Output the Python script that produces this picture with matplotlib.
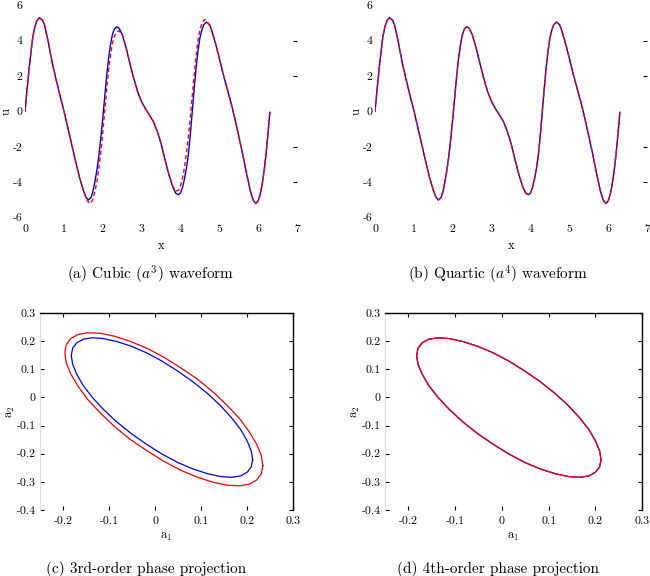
import numpy as np
import matplotlib
matplotlib.use("Agg")
import matplotlib.pyplot as plt

plt.rcParams['font.family'] = ['cmr10', 'DejaVu Serif']
plt.rcParams['mathtext.fontset'] = 'cm'
plt.rcParams['axes.unicode_minus'] = False

# forma de onda, solucion "exacta" (azul)
x_exacta = [0.00, 0.05, 0.10, 0.15, 0.20, 0.25, 0.30, 0.37, 0.45, 0.50, 0.60, 0.70, 0.80, 0.90,
            1.00, 1.10, 1.20, 1.30, 1.40, 1.50, 1.57, 1.63, 1.70, 1.75, 1.80, 1.85, 1.90, 1.95,
            2.00, 2.05, 2.10, 2.15, 2.20, 2.25, 2.30, 2.36, 2.42, 2.50, 2.60, 2.70, 2.80, 2.90,
            3.00, 3.10, 3.20, 3.30, 3.40, 3.50, 3.60, 3.70, 3.80, 3.88, 3.95, 4.00, 4.05, 4.10,
            4.15, 4.20, 4.25, 4.30, 4.35, 4.40, 4.45, 4.50, 4.55, 4.60, 4.67, 4.75, 4.80, 4.90,
            5.00, 5.10, 5.20, 5.30, 5.40, 5.50, 5.60, 5.70, 5.80, 5.87, 5.94, 6.00, 6.05, 6.10,
            6.15, 6.20, 6.25, 6.30]
u_exacta = [0.0, 1.2, 2.3, 3.3, 4.2, 4.75, 5.1, 5.3, 5.15, 4.9, 3.9, 2.75, 1.8, 0.9,
            0.05, -0.9, -1.85, -2.8, -3.7, -4.45, -4.85, -5.0, -4.85, -4.5, -3.95, -3.3, -2.5, -1.5,
            -0.4, 0.8, 2.0, 3.0, 3.8, 4.35, 4.65, 4.78, 4.7, 4.35, 3.6, 2.7, 1.85, 1.1,
            0.55, 0.15, -0.2, -0.55, -1.1, -1.8, -2.7, -3.55, -4.25, -4.62, -4.7, -4.6, -4.3, -3.85,
            -3.25, -2.5, -1.4, -0.1, 1.2, 2.4, 3.4, 4.15, 4.6, 4.9, 5.05, 4.9, 4.6, 3.85,
            3.0, 2.1, 1.3, 0.5, -0.4, -1.4, -2.4, -3.5, -4.5, -5.0, -5.2, -5.05, -4.7, -4.15,
            -3.4, -2.45, -1.3, -0.05]

# aproximacion cubica (rojo)
x_cubica = [0.00, 0.05, 0.10, 0.15, 0.20, 0.25, 0.30, 0.37, 0.45, 0.50, 0.60, 0.70, 0.80, 0.90,
            1.00, 1.10, 1.20, 1.30, 1.40, 1.50, 1.57, 1.63, 1.68, 1.74, 1.80, 1.85, 1.90, 1.95,
            2.00, 2.05, 2.10, 2.15, 2.20, 2.25, 2.30, 2.36, 2.42, 2.50, 2.60, 2.70, 2.80, 2.90,
            3.00, 3.10, 3.20, 3.30, 3.40, 3.50, 3.60, 3.70, 3.80, 3.88, 3.95, 4.00, 4.05, 4.10,
            4.15, 4.20, 4.25, 4.30, 4.35, 4.40, 4.45, 4.50, 4.55, 4.62, 4.70, 4.80, 4.90,
            5.00, 5.10, 5.20, 5.30, 5.40, 5.50, 5.60, 5.70, 5.80, 5.87, 5.94, 6.00, 6.05, 6.10,
            6.15, 6.20, 6.25, 6.30]
u_cubica = [0.0, 1.2, 2.3, 3.3, 4.2, 4.75, 5.1, 5.3, 5.15, 4.9, 3.9, 2.75, 1.8, 0.9,
            0.05, -0.9, -1.85, -2.8, -3.7, -4.45, -4.9, -5.12, -5.2, -5.0, -4.5, -3.95, -3.2, -2.3,
            -1.2, 0.0, 1.2, 2.3, 3.2, 3.85, 4.25, 4.5, 4.55, 4.35, 3.65, 2.7, 1.85, 1.1,
            0.55, 0.15, -0.2, -0.55, -1.1, -1.8, -2.7, -3.55, -4.2, -4.5, -4.45, -4.2, -3.8, -3.2,
            -2.4, -1.5, -0.4, 0.8, 2.0, 3.1, 4.0, 4.6, 4.95, 5.2, 5.05, 4.6, 3.85,
            3.0, 2.1, 1.3, 0.5, -0.4, -1.4, -2.4, -3.5, -4.5, -5.0, -5.2, -5.05, -4.7, -4.15,
            -3.4, -2.45, -1.3, -0.05]

# aproximacion cuartica (coincide con la exacta)
x_cuartica = x_exacta
u_cuartica = u_exacta

# proyeccion de fase, orbita exacta (azul)
a1_exacta = [0.212, 0.209, 0.200, 0.186, 0.166, 0.142, 0.114, 0.082, 0.049, 0.015, -0.019, -0.052,
             -0.084, -0.112, -0.136, -0.156, -0.170, -0.179, -0.182, -0.179, -0.170, -0.156, -0.136,
             -0.112, -0.084, -0.052, -0.019, 0.015, 0.049, 0.082, 0.114, 0.142, 0.166, 0.186, 0.200,
             0.209, 0.212]
a2_exacta = [-0.221, -0.190, -0.154, -0.114, -0.072, -0.029, 0.014, 0.056, 0.094, 0.129, 0.159, 0.182,
             0.199, 0.209, 0.212, 0.207, 0.194, 0.175, 0.149, 0.118, 0.082, 0.042, 0.000,
             -0.043, -0.086, -0.128, -0.166, -0.201, -0.231, -0.254, -0.271, -0.281, -0.284, -0.279, -0.266,
             -0.247, -0.221]

# orbita de tercer orden (rojo)
a1_orden3 = [0.234, 0.231, 0.221, 0.205, 0.184, 0.157, 0.127, 0.093, 0.056, 0.019, -0.018, -0.055,
             -0.089, -0.119, -0.146, -0.167, -0.183, -0.193, -0.196, -0.193, -0.183, -0.167, -0.146,
             -0.119, -0.089, -0.055, -0.018, 0.019, 0.056, 0.093, 0.127, 0.157, 0.184, 0.205, 0.221,
             0.231, 0.234]
a2_orden3 = [-0.242, -0.207, -0.167, -0.123, -0.076, -0.029, 0.018, 0.064, 0.105, 0.143, 0.175, 0.200,
             0.218, 0.228, 0.230, 0.224, 0.209, 0.187, 0.158, 0.123, 0.083, 0.039, -0.008,
             -0.055, -0.102, -0.148, -0.189, -0.227, -0.259, -0.284, -0.302, -0.312, -0.314, -0.308, -0.293,
             -0.271, -0.242]

# orbita de cuarto orden (coincide con la exacta)
a1_orden4 = a1_exacta
a2_orden4 = a2_exacta

titulos = ["(a) Cubic ($a^3$) waveform", "(b) Quartic ($a^4$) waveform",
           "(c) 3rd-order phase projection", "(d) 4th-order phase projection"]

fig = plt.figure(figsize=(6.5, 5.76), dpi=100)

ax_a = fig.add_axes([0.0385, 0.622, 0.4185, 0.369])
ax_b = fig.add_axes([0.577, 0.622, 0.4185, 0.369])
ax_c = fig.add_axes([0.0615, 0.1146, 0.3895, 0.342])
ax_d = fig.add_axes([0.592, 0.1146, 0.396, 0.342])

# ondas
for ax, xr, ur in [(ax_a, x_cubica, u_cubica), (ax_b, x_cuartica, u_cuartica)]:
    ax.plot(x_exacta, u_exacta, color='#0000dd', lw=1.0)
    ax.plot(xr, ur, color='#ff0000', lw=1.0, ls=(0, (3, 2)))
    ax.set_xlim(0, 7)
    ax.set_ylim(-6, 6)
    ax.set_xticks(range(0, 8))
    ax.set_yticks(range(-6, 7, 2))
    for s in ax.spines.values():
        s.set_visible(False)
    ax.tick_params(labelsize=8.5, direction='in', length=3, bottom=False, left=False, right=True,
                   labelleft=True, pad=2)
    ax.tick_params(axis='x', pad=5)
    # solo se ven las marcas de la derecha en +-2 y +-4
    for v, tk in zip(range(-6, 7, 2), ax.yaxis.get_major_ticks()):
        if v in (-6, 0, 6):
            tk.tick2line.set_visible(False)
    ax.set_xlabel("x", fontsize=9, labelpad=4)
    ax.set_ylabel("u", fontsize=9, labelpad=0)

# proyecciones de fase
for ax, xr, yr in [(ax_c, a1_orden3, a2_orden3), (ax_d, a1_orden4, a2_orden4)]:
    ax.plot(a1_exacta, a2_exacta, color='#0000dd', lw=0.9)
    ax.plot(xr, yr, color='#ee0000', lw=0.9)
    ax.set_xlim(-0.25, 0.3)
    ax.set_ylim(-0.4, 0.3)
    ax.set_xticks([-0.2, -0.1, 0, 0.1, 0.2, 0.3])
    ax.set_xticklabels(["-0.2", "-0.1", "0", "0.1", "0.2", "0.3"])
    ax.set_yticks([-0.4, -0.3, -0.2, -0.1, 0, 0.1, 0.2, 0.3])
    ax.set_yticklabels(["-0.4", "-0.3", "-0.2", "-0.1", "0", "0.1", "0.2", "0.3"])
    ax.spines['bottom'].set_visible(False)
    ax.spines['left'].set_color('#dddddd')
    ax.spines['top'].set_linewidth(1.0)
    ax.spines['right'].set_linewidth(1.0)
    ax.tick_params(labelsize=8.5, direction='in', length=3, top=True, right=True, pad=3)
    ax.tick_params(axis='x', pad=5)
    ax.set_xlabel("a$_1$", fontsize=9, labelpad=3)
    ax.set_ylabel("a$_2$", fontsize=9, labelpad=0)

pos_titulos = [(0.231, 0.522), (0.766, 0.522), (0.225, 0.013), (0.766, 0.013)]
for t, (px, py) in zip(titulos, pos_titulos):
    fig.text(px, py, t, ha='center', va='center', fontsize=11)

fig.savefig("out.png", dpi=100)
